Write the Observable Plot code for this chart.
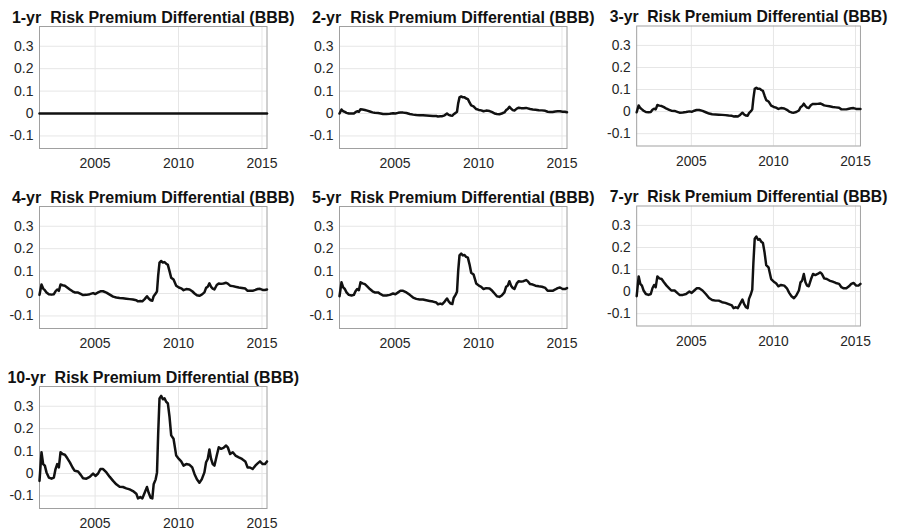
<!DOCTYPE html>
<html>
<head>
<meta charset="utf-8">
<script src="https://cdn.jsdelivr.net/npm/d3@7"></script>
<script src="https://cdn.jsdelivr.net/npm/@observablehq/plot@0.6"></script>
<style>
  html, body { margin: 0; padding: 0; background: #fff; }
  #chart { position: relative; width: 899px; height: 531px; background: #fff; overflow: hidden; }
  #chart .panel { position: absolute; }
  #chart svg { overflow: visible; }
</style>
</head>
<body>
<div id="chart"></div>
<script>
// ---------- data ----------
const maturities = ["1-yr", "2-yr", "3-yr", "4-yr", "5-yr", "7-yr", "10-yr"];
const titleSuffix = "  Risk Premium Differential (BBB)";
const xTicks = [2005, 2010, 2015];
const yTicks = [-0.1, 0, 0.1, 0.2, 0.3];

const dates = [
  2001.67, 2001.79, 2001.89, 2001.99, 2002.09, 2002.23, 2002.39, 2002.53, 2002.63, 2002.73,
  2002.83, 2002.93, 2003.05, 2003.19, 2003.33, 2003.49, 2003.65, 2003.78, 2003.98, 2004.14,
  2004.28, 2004.48, 2004.68, 2004.88, 2005.02, 2005.18, 2005.32, 2005.48, 2005.68, 2005.88,
  2006.08, 2006.27, 2006.47, 2006.67, 2006.87, 2007.07, 2007.27, 2007.47, 2007.57, 2007.71,
  2007.83, 2007.97, 2008.11, 2008.21, 2008.33, 2008.43, 2008.51, 2008.63, 2008.71, 2008.78,
  2008.86, 2008.96, 2009.06, 2009.16, 2009.26, 2009.36, 2009.46, 2009.56, 2009.70, 2009.86,
  2010.02, 2010.16, 2010.30, 2010.46, 2010.66, 2010.82, 2010.96, 2011.10, 2011.25, 2011.39,
  2011.55, 2011.65, 2011.75, 2011.85, 2011.95, 2012.05, 2012.15, 2012.29, 2012.41, 2012.55,
  2012.69, 2012.85, 2012.95, 2013.09, 2013.25, 2013.41, 2013.61, 2013.80, 2014.00, 2014.14,
  2014.28, 2014.44, 2014.60, 2014.74, 2014.88, 2015.04, 2015.18, 2015.30
];

const rp1 = [
  0, 0, 0, 0, 0, 0, 0, 0, 0, 0,
  0, 0, 0, 0, 0, 0, 0, 0, 0, 0,
  0, 0, 0, 0, 0, 0, 0, 0, 0, 0,
  0, 0, 0, 0, 0, 0, 0, 0, 0, 0,
  0, 0, 0, 0, 0, 0, 0, 0, 0, 0,
  0, 0, 0, 0, 0, 0, 0, 0, 0, 0,
  0, 0, 0, 0, 0, 0, 0, 0, 0, 0,
  0, 0, 0, 0, 0, 0, 0, 0, 0, 0,
  0, 0, 0, 0, 0, 0, 0, 0, 0, 0,
  0, 0, 0, 0, 0, 0, 0, 0
];

const rp2 = [
  0.000, 0.018, 0.010, 0.007, 0.003, 0.000, 0.000, 0.000, 0.006, 0.010,
  0.008, 0.019, 0.018, 0.016, 0.013, 0.009, 0.005, 0.003, 0.002, 0.000,
  -0.002, -0.002, -0.001, 0.001, 0.000, 0.003, 0.004, 0.004, 0.002, -0.002,
  -0.005, -0.007, -0.008, -0.008, -0.009, -0.010, -0.011, -0.011, -0.013, -0.012,
  -0.012, -0.008, 0.000, -0.006, -0.009, -0.010, -0.003, 0.003, 0.008, 0.045,
  0.072, 0.076, 0.072, 0.072, 0.067, 0.064, 0.050, 0.036, 0.032, 0.020,
  0.016, 0.014, 0.010, 0.013, 0.011, 0.006, 0.000, -0.002, -0.003, 0.000,
  0.005, 0.015, 0.020, 0.030, 0.022, 0.015, 0.013, 0.022, 0.026, 0.024,
  0.024, 0.025, 0.023, 0.020, 0.018, 0.017, 0.015, 0.014, 0.012, 0.008,
  0.007, 0.007, 0.009, 0.010, 0.010, 0.008, 0.008, 0.006
];

const rp3 = [
  -0.003, 0.028, 0.016, 0.010, 0.004, -0.002, -0.003, -0.002, 0.008, 0.013,
  0.010, 0.030, 0.027, 0.025, 0.020, 0.013, 0.008, 0.004, 0.003, -0.001,
  -0.005, -0.004, -0.002, 0.001, -0.001, 0.004, 0.007, 0.007, 0.003, -0.003,
  -0.009, -0.012, -0.013, -0.014, -0.015, -0.016, -0.018, -0.019, -0.022, -0.021,
  -0.022, -0.015, -0.005, -0.013, -0.018, -0.019, -0.007, 0.002, 0.010, 0.060,
  0.103, 0.108, 0.103, 0.104, 0.098, 0.094, 0.072, 0.052, 0.046, 0.027,
  0.021, 0.018, 0.012, 0.016, 0.014, 0.008, 0.000, -0.004, -0.005, -0.002,
  0.005, 0.020, 0.025, 0.036, 0.025, 0.018, 0.016, 0.030, 0.035, 0.034,
  0.035, 0.037, 0.034, 0.028, 0.026, 0.024, 0.021, 0.019, 0.017, 0.010,
  0.010, 0.010, 0.013, 0.015, 0.016, 0.012, 0.012, 0.012
];

const rp4 = [
  -0.006, 0.040, 0.022, 0.015, 0.005, -0.003, -0.005, -0.003, 0.010, 0.018,
  0.012, 0.040, 0.037, 0.035, 0.027, 0.018, 0.010, 0.005, 0.004, -0.002,
  -0.007, -0.006, -0.003, 0.002, -0.002, 0.005, 0.010, 0.010, 0.004, -0.005,
  -0.014, -0.018, -0.020, -0.021, -0.023, -0.025, -0.027, -0.030, -0.035, -0.033,
  -0.035, -0.025, -0.012, -0.022, -0.030, -0.032, -0.012, 0.000, 0.010, 0.080,
  0.138, 0.145, 0.138, 0.140, 0.133, 0.128, 0.100, 0.070, 0.062, 0.035,
  0.027, 0.023, 0.015, 0.020, 0.018, 0.010, 0.000, -0.008, -0.010, -0.005,
  0.005, 0.025, 0.030, 0.045, 0.030, 0.022, 0.018, 0.038, 0.045, 0.043,
  0.045, 0.048, 0.044, 0.035, 0.033, 0.030, 0.027, 0.025, 0.022, 0.012,
  0.012, 0.012, 0.016, 0.020, 0.021, 0.016, 0.016, 0.018
];

const rp5 = [
  -0.012, 0.050, 0.027, 0.020, 0.005, -0.006, -0.009, -0.006, 0.010, 0.020,
  0.015, 0.050, 0.045, 0.042, 0.032, 0.020, 0.010, 0.005, 0.005, -0.003,
  -0.009, -0.009, -0.006, 0.000, -0.003, 0.005, 0.012, 0.012, 0.005, -0.006,
  -0.018, -0.024, -0.027, -0.027, -0.030, -0.033, -0.036, -0.040, -0.048, -0.045,
  -0.048, -0.036, -0.022, -0.035, -0.045, -0.047, -0.020, -0.005, 0.008, 0.100,
  0.170, 0.178, 0.170, 0.172, 0.163, 0.160, 0.130, 0.093, 0.085, 0.045,
  0.035, 0.030, 0.020, 0.024, 0.022, 0.012, 0.000, -0.012, -0.015, -0.009,
  0.005, 0.030, 0.035, 0.055, 0.035, 0.025, 0.020, 0.045, 0.055, 0.053,
  0.055, 0.060, 0.055, 0.042, 0.040, 0.035, 0.032, 0.030, 0.025, 0.012,
  0.012, 0.012, 0.018, 0.024, 0.027, 0.020, 0.020, 0.024
];

const rp7 = [
  -0.021, 0.069, 0.035, 0.027, 0.005, -0.011, -0.015, -0.011, 0.015, 0.030,
  0.020, 0.069, 0.060, 0.057, 0.042, 0.027, 0.015, 0.005, 0.005, -0.006,
  -0.015, -0.015, -0.011, 0.000, -0.006, 0.005, 0.015, 0.015, 0.005, -0.011,
  -0.029, -0.038, -0.041, -0.041, -0.048, -0.051, -0.057, -0.063, -0.075, -0.071,
  -0.075, -0.056, -0.036, -0.056, -0.071, -0.075, -0.033, -0.011, 0.009, 0.132,
  0.240, 0.250, 0.235, 0.238, 0.226, 0.220, 0.177, 0.120, 0.110, 0.057,
  0.045, 0.038, 0.024, 0.030, 0.027, 0.015, -0.006, -0.021, -0.030, -0.018,
  0.005, 0.042, 0.050, 0.080, 0.042, 0.027, 0.024, 0.057, 0.080, 0.075,
  0.080, 0.087, 0.080, 0.060, 0.057, 0.050, 0.045, 0.039, 0.035, 0.020,
  0.015, 0.015, 0.024, 0.035, 0.039, 0.027, 0.027, 0.035
];

const rp10 = [
  -0.033, 0.095, 0.042, 0.035, 0.005, -0.018, -0.023, -0.018, 0.020, 0.042,
  0.027, 0.095, 0.087, 0.084, 0.069, 0.050, 0.027, 0.012, 0.009, -0.006,
  -0.021, -0.023, -0.015, 0.000, -0.011, 0.000, 0.020, 0.020, 0.005, -0.015,
  -0.033, -0.048, -0.059, -0.060, -0.066, -0.071, -0.078, -0.090, -0.111, -0.105,
  -0.111, -0.086, -0.060, -0.086, -0.108, -0.111, -0.048, -0.026, 0.005, 0.177,
  0.335, 0.346, 0.331, 0.335, 0.320, 0.313, 0.253, 0.170, 0.155, 0.080,
  0.065, 0.054, 0.035, 0.042, 0.039, 0.027, -0.003, -0.026, -0.041, -0.026,
  0.005, 0.050, 0.065, 0.107, 0.065, 0.042, 0.035, 0.080, 0.117, 0.110,
  0.114, 0.125, 0.117, 0.087, 0.095, 0.080, 0.072, 0.065, 0.054, 0.027,
  0.027, 0.020, 0.035, 0.045, 0.054, 0.042, 0.042, 0.054
];

const seriesList = [rp1, rp2, rp3, rp4, rp5, rp7, rp10];

// ---------- layout ----------
const colLefts = [39, 338.5, 636.7];
const rowTops = [26, 206, 386];
const plotW = 227.5, plotH = 122;
const ML = 50, MR = 40, MT = 30, MB = 30;
const xDomain = [2001.67, 2015.30];
const yDomain = [-0.156, 0.388];
const font = "'Liberation Sans', Arial, Helvetica, sans-serif";

const chart = document.getElementById("chart");

maturities.forEach((m, i) => {
  const col = i % 3, row = Math.floor(i / 3);
  const rows = dates.map((d, j) => ({date: d, value: seriesList[i][j]}));
  const svg = Plot.plot({
    width: ML + plotW + MR,
    height: MT + plotH + MB,
    marginLeft: ML, marginRight: MR, marginTop: MT, marginBottom: MB,
    style: {background: "transparent", fontFamily: font, fontSize: "14px", color: "#262626", overflow: "visible"},
    x: {domain: xDomain, ticks: xTicks, tickFormat: d => String(d), tickSize: 0, tickPadding: 10, label: null},
    y: {domain: yDomain, ticks: yTicks, tickFormat: d => String(d), tickSize: 0, tickPadding: 6, label: null},
    marks: [
      Plot.gridX(xTicks, {stroke: "#e6e6e6", strokeOpacity: 1}),
      Plot.gridY(yTicks, {stroke: "#e6e6e6", strokeOpacity: 1}),
      Plot.frame({stroke: "#a0a0a0"}),
      Plot.line(rows, {x: "date", y: "value", stroke: "#111", strokeWidth: 2.5, strokeLinejoin: "round"}),
      Plot.text([m + titleSuffix], {
        text: d => d, frameAnchor: "top", lineAnchor: "bottom", dy: -4,
        fontWeight: "bold", fontSize: 16, fill: "#111", fontFamily: font
      })
    ]
  });
  const div = document.createElement("div");
  div.className = "panel";
  div.style.left = (colLefts[col] - ML) + "px";
  div.style.top = (rowTops[row] - MT) + "px";
  div.appendChild(svg);
  chart.appendChild(div);
});
</script>
</body>
</html>
